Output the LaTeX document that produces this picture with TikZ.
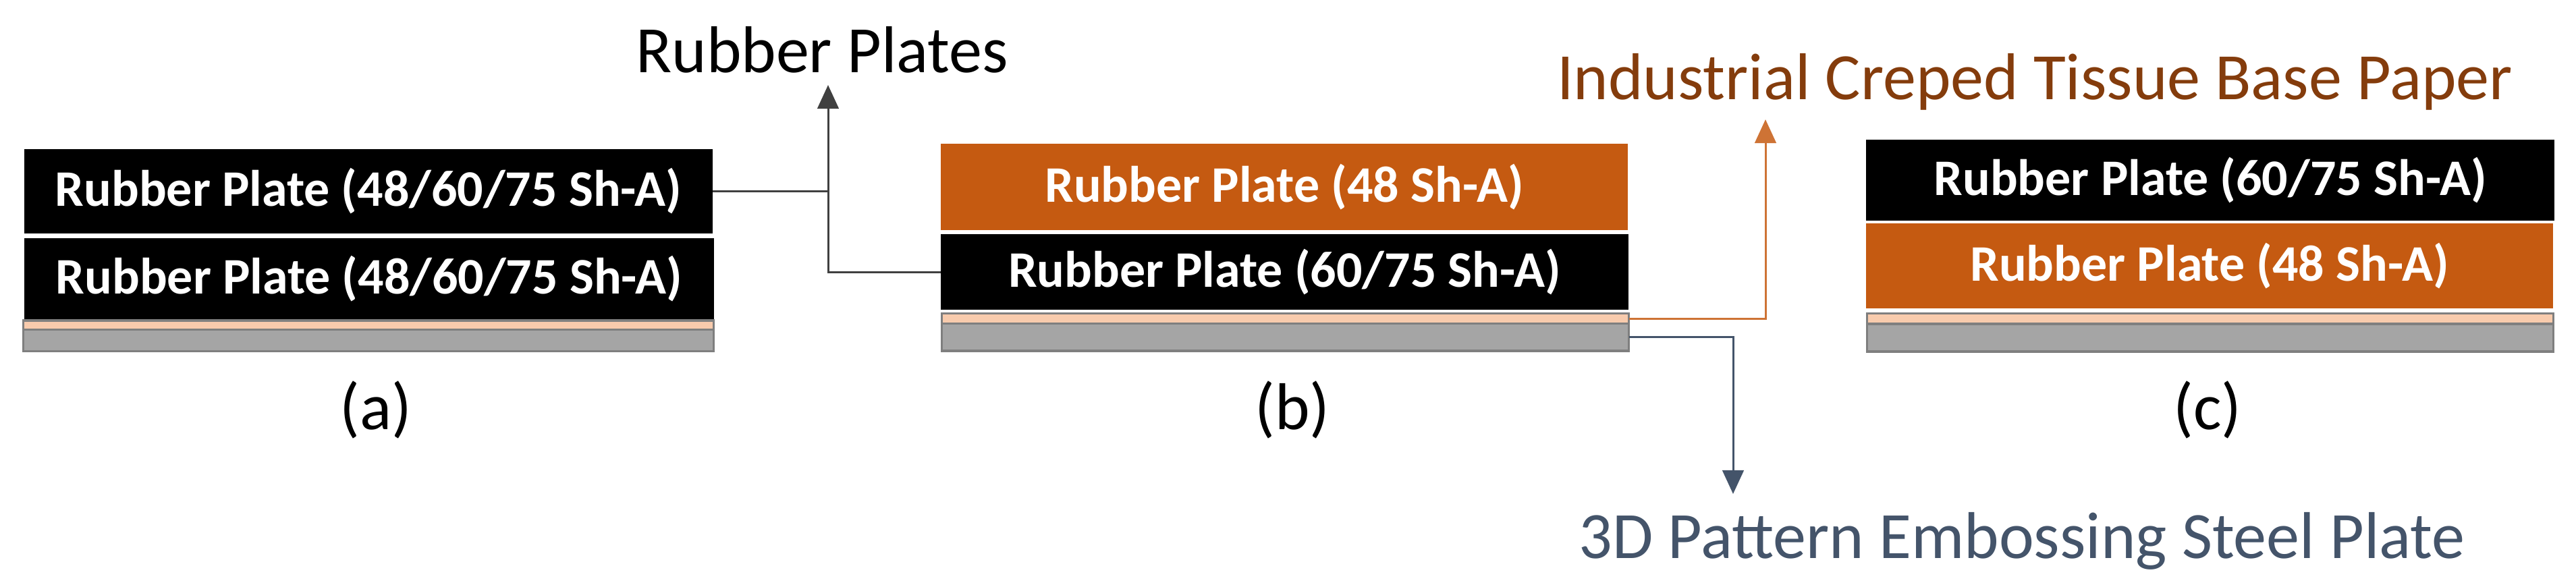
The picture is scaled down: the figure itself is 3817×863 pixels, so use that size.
\documentclass[tikz,border=0pt]{standalone}
\usepackage{fontspec}
\setmainfont{Carlito}
\usetikzlibrary{arrows.meta}
\definecolor{rubberorange}{HTML}{C55A11}
\definecolor{tissuepeach}{HTML}{F8CBAD}
\definecolor{steelgrey}{HTML}{A5A5A5}
\definecolor{edgegrey}{HTML}{7F7F7F}
\definecolor{paperbrown}{HTML}{843C0C}
\definecolor{steelblue}{HTML}{44546A}

\begin{document}
\begin{tikzpicture}[x=0.01cm,y=-0.01cm,
  plate/.style={rectangle,inner sep=0pt,outer sep=0pt,text=white,
    font=\fontsize{21.6}{26}\selectfont\bfseries},
  hardplate/.style={plate,fill=black},
  softplate/.style={plate,fill=rubberorange},
  tissue/.style={rectangle,inner sep=0pt,outer sep=0pt,fill=tissuepeach,
    draw=edgegrey,line width=1pt},
  steel/.style={rectangle,inner sep=0pt,outer sep=0pt,fill=steelgrey,
    draw=edgegrey,line width=1pt},
  caption/.style={font=\fontsize{27.9}{33}\selectfont,inner sep=0pt,anchor=base},
  lead/.style={line width=0.85pt},
  tip/.style={-{Triangle[width=9pt,length=10pt]}}]
  \useasboundingbox (0,0) rectangle (3817,863);

  % (a)
  \node[hardplate,minimum width=10.2cm,minimum height=1.25cm] (a1) at (546,283.4)
    {Rubber Plate (48/60/75 Sh-A)};
  \node[hardplate,minimum width=10.21cm,minimum height=1.2cm] (a2) at (547,412.7)
    {Rubber Plate (48/60/75 Sh-A)};
  \node[steel,minimum width=10.22cm,minimum height=0.32cm] (sa) at (546,504.3) {};
  \node[tissue,minimum width=10.22cm,minimum height=0.135cm] (ta) at (546,481.5) {};
  \node[caption] (capa) at (557,636) {(a)};

  % (b)
  \node[softplate,minimum width=10.18cm,minimum height=1.28cm] (b1) at (1903,277)
    {Rubber Plate (48 Sh-A)};
  \node[hardplate,minimum width=10.19cm,minimum height=1.126cm] (b2) at (1903.5,403)
    {Rubber Plate (60/75 Sh-A)};
  \node[steel,minimum width=10.175cm,minimum height=0.405cm] (sb) at (1904.5,499.8) {};
  \node[tissue,minimum width=10.175cm,minimum height=0.15cm] (tb) at (1904.5,472) {};
  \node[caption] (capb) at (1915,636) {(b)};

  % (c)
  \node[hardplate,minimum width=10.19cm,minimum height=1.2cm] (c1) at (3275,266.7)
    {Rubber Plate (60/75 Sh-A)};
  \node[softplate,minimum width=10.18cm,minimum height=1.26cm] (c2) at (3274,393.7)
    {Rubber Plate (48 Sh-A)};
  \node[steel,minimum width=10.16cm,minimum height=0.41cm] (sc) at (3275,500.5) {};
  \node[tissue,minimum width=10.16cm,minimum height=0.15cm] (tc) at (3275,472) {};
  \node[caption] (capc) at (3271,636) {(c)};

  % labels
  \node[caption] (rp) at (1218,107) {Rubber Plates};
  \node[caption,text=paperbrown] (ic) at (3015,147) {Industrial Creped Tissue Base Paper};
  \node[caption,text=steelblue] (ep) at (2996,827) {3D Pattern Embossing Steel Plate};

  \coordinate (rptip) at (1227,126);
  \coordinate (ictip) at (2616,177);
  \coordinate (eptip) at (2568,732);

  \draw[lead,black!75] (a1.east) -- (a1.east -| rptip);
  \draw[lead,black!75,tip] (b2.west) -| (rptip);
  \draw[lead,rubberorange!85,tip] (tb.east) -| (ictip);
  \draw[lead,steelblue,tip] (sb.east) -| (eptip);
\end{tikzpicture}
\end{document}
